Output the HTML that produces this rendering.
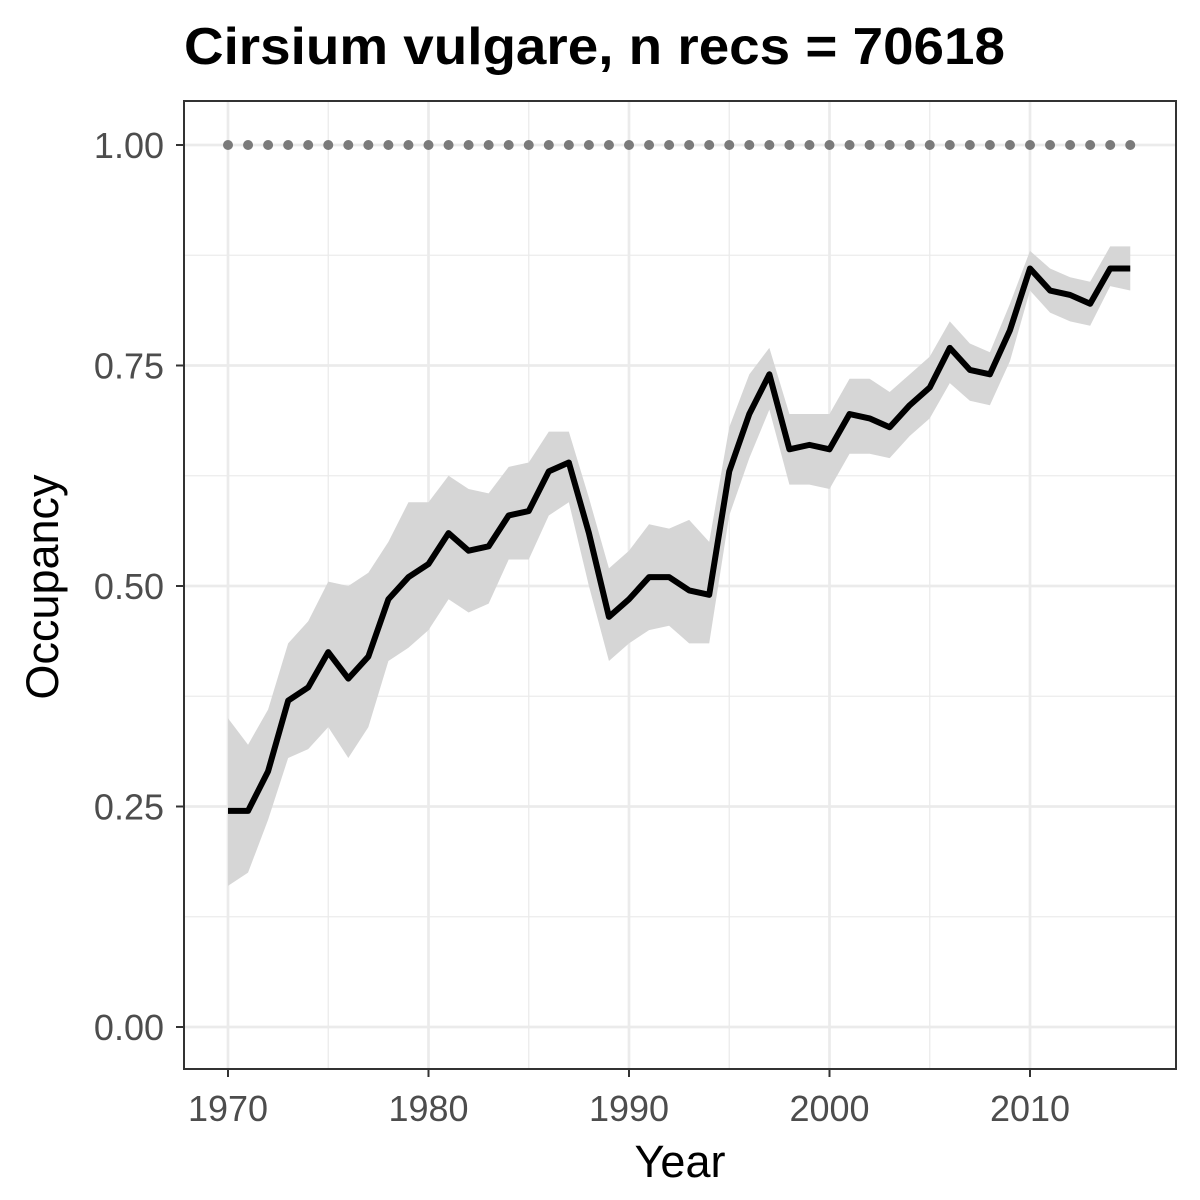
<!DOCTYPE html>
<html><head><meta charset="utf-8"><style>
html,body{margin:0;padding:0;background:#fff}
svg{display:block;font-family:"Liberation Sans",Arial,sans-serif}
</style></head><body>
<svg id="chart" width="1200" height="1200" viewBox="0 0 1200 1200">
<rect x="0" y="0" width="1200" height="1200" fill="#fff"/>
<text x="184" y="64" font-size="52" font-weight="bold" fill="#000" textLength="821" lengthAdjust="spacingAndGlyphs">Cirsium vulgare, n recs = 70618</text>
<g id="grid"></g>
<g id="marks"></g>
<rect x="184" y="101" width="992" height="968" fill="none" stroke="#333" stroke-width="2"/>
<g id="axes"></g>
<text x="680" y="1177" font-size="45" text-anchor="middle" fill="#000">Year</text>
<text transform="translate(58,587) rotate(-90)" font-size="45" text-anchor="middle" fill="#000">Occupancy</text>
</svg>
<script>
const years=[1970,1971,1972,1973,1974,1975,1976,1977,1978,1979,1980,1981,1982,1983,1984,1985,1986,1987,1988,1989,1990,1991,1992,1993,1994,1995,1996,1997,1998,1999,2000,2001,2002,2003,2004,2005,2006,2007,2008,2009,2010,2011,2012,2013,2014,2015];
const mean=[0.245,0.245,0.29,0.37,0.385,0.425,0.395,0.42,0.485,0.51,0.525,0.56,0.54,0.545,0.58,0.585,0.63,0.64,0.56,0.465,0.485,0.51,0.51,0.495,0.49,0.63,0.695,0.74,0.655,0.66,0.655,0.695,0.69,0.68,0.705,0.725,0.77,0.745,0.74,0.79,0.86,0.835,0.83,0.82,0.86,0.86];
const lower=[0.16,0.175,0.235,0.305,0.315,0.34,0.305,0.34,0.415,0.43,0.45,0.485,0.47,0.48,0.53,0.53,0.58,0.595,0.5,0.415,0.435,0.45,0.455,0.435,0.435,0.58,0.645,0.7,0.615,0.615,0.61,0.65,0.65,0.645,0.67,0.69,0.73,0.71,0.705,0.755,0.835,0.81,0.8,0.795,0.84,0.835];
const upper=[0.35,0.32,0.36,0.435,0.46,0.505,0.5,0.515,0.55,0.595,0.595,0.625,0.61,0.605,0.635,0.64,0.675,0.675,0.6,0.52,0.54,0.57,0.565,0.575,0.55,0.68,0.74,0.77,0.695,0.695,0.695,0.735,0.735,0.72,0.74,0.76,0.8,0.775,0.765,0.82,0.88,0.86,0.85,0.845,0.885,0.885];
const refLevel=[1.0];
const xTicks=[1970,1980,1990,2000,2010];
const yTicks=[0,0.25,0.5,0.75,1.0];
const yTickLabels=["0.00","0.25","0.50","0.75","1.00"];

const NS="http://www.w3.org/2000/svg";
const X=v=>228+(v-1970)*(1030-228)/40;
const Y=v=>1027-v*(1027-145);
function mk(parent,tag,attrs){const e=document.createElementNS(NS,tag);for(const k in attrs)e.setAttribute(k,attrs[k]);document.getElementById(parent).appendChild(e);return e;}

[1975,1985,1995,2005].forEach(v=>{const l=mk('grid','line',{x1:X(v),x2:X(v),y1:101,y2:1069,stroke:'#ebebeb','stroke-width':1.3});

});
[0.125,0.375,0.625,0.875].forEach(v=>{const l=mk('grid','line',{x1:184,x2:1176,y1:Y(v),y2:Y(v),stroke:'#ebebeb','stroke-width':1.3});

});
xTicks.forEach(v=>{const l=mk('grid','line',{x1:X(v),x2:X(v),y1:101,y2:1069,stroke:'#ebebeb','stroke-width':2.7});

});
yTicks.forEach(v=>{const l=mk('grid','line',{x1:184,x2:1176,y1:Y(v),y2:Y(v),stroke:'#ebebeb','stroke-width':2.7});

});

let d='M'+years.map((y,i)=>X(y)+','+Y(upper[i])).join('L');
for(let i=years.length-1;i>=0;i--)d+='L'+X(years[i])+','+Y(lower[i]);
const rib=mk('marks','path',{d:d+'Z',fill:'#d6d6d6',stroke:'none'});



const ref=mk('marks','line',{x1:X(years[0]),x2:X(years[years.length-1]),y1:Y(refLevel[0]),y2:Y(refLevel[0]),stroke:'#7a7a7a','stroke-width':10,'stroke-linecap':'round','stroke-dasharray':'0 20.05'});



const ln=mk('marks','polyline',{points:years.map((y,i)=>X(y)+','+Y(mean[i])).join(' '),fill:'none',stroke:'#000','stroke-width':6,'stroke-linejoin':'round'});



xTicks.forEach(v=>{const t=mk('axes','line',{x1:X(v),x2:X(v),y1:1069,y2:1077,stroke:'#333','stroke-width':2});


const s=mk('axes','text',{x:X(v),y:1121,'font-size':36,'text-anchor':'middle',fill:'#4d4d4d'});s.textContent=v;

});
yTicks.forEach((v,i)=>{const t=mk('axes','line',{x1:176,x2:184,y1:Y(v),y2:Y(v),stroke:'#333','stroke-width':2});


const s=mk('axes','text',{x:164,y:Y(v)+13,'font-size':36,'text-anchor':'end',fill:'#4d4d4d'});s.textContent=yTickLabels[i];

});
</script>
</body></html>
